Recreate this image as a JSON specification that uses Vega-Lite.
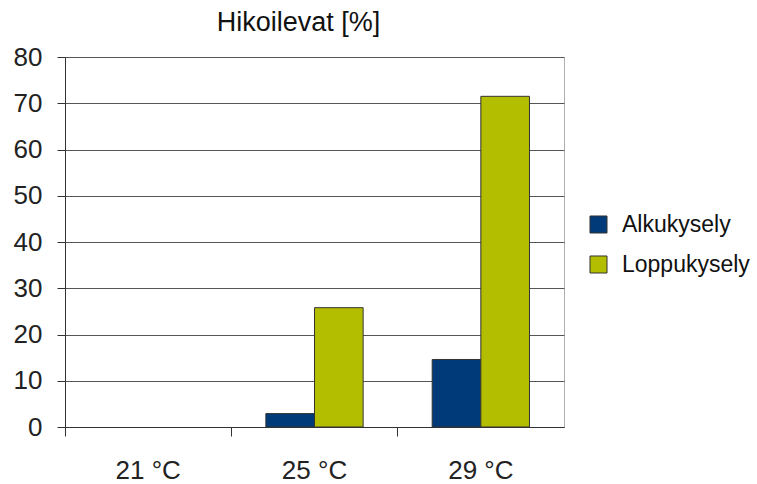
{
  "$schema": "https://vega.github.io/schema/vega-lite/v6.json",
  "autosize": "none",
  "width": 499,
  "height": 370,
  "padding": {"left": 65, "top": 57, "right": 193, "bottom": 57},
  "background": "white",
  "title": {
    "text": "Hikoilevat [%]",
    "font": "Liberation Sans",
    "fontSize": 27,
    "fontWeight": "normal",
    "color": "#111111",
    "anchor": "middle",
    "offset": 7,
    "dx": -16
  },
  "data": {
    "values": [
      {"temp": "21 °C", "series": "Alkukysely", "value": 0},
      {"temp": "21 °C", "series": "Loppukysely", "value": 0},
      {"temp": "25 °C", "series": "Alkukysely", "value": 2.9},
      {"temp": "25 °C", "series": "Loppukysely", "value": 25.8},
      {"temp": "29 °C", "series": "Alkukysely", "value": 14.6},
      {"temp": "29 °C", "series": "Loppukysely", "value": 71.5}
    ]
  },
  "config": {
    "view": {"stroke": "#b0b0b0", "strokeWidth": 1},
    "axis": {
      "labelFont": "Liberation Sans",
      "labelFontSize": 26,
      "labelColor": "#222222",
      "domainColor": "#333333",
      "tickColor": "#333333",
      "titleFont": "Liberation Sans"
    },
    "legend": {"labelFont": "Liberation Sans"}
  },
  "mark": {"type": "bar", "stroke": "#333333"},
  "encoding": {
    "x": {
      "field": "temp",
      "type": "nominal",
      "title": null,
      "scale": {"paddingInner": 0, "paddingOuter": 0},
      "axis": {
        "labelAngle": 0,
        "bandPosition": 0,
        "tickSize": 9,
        "labelPadding": 21,
        "grid": false
      }
    },
    "xOffset": {
      "field": "series",
      "type": "nominal",
      "scale": {"paddingInner": 0, "paddingOuter": 0.71}
    },
    "y": {
      "field": "value",
      "type": "quantitative",
      "title": null,
      "scale": {"domain": [0, 80], "nice": false},
      "axis": {
        "values": [0, 10, 20, 30, 40, 50, 60, 70, 80],
        "tickSize": 8,
        "labelPadding": 15,
        "grid": true,
        "gridColor": "#555555",
        "gridWidth": 1,
        "gridOpacity": 1
      }
    },
    "strokeWidth": {
      "condition": {"test": "datum.value == 0", "value": 0},
      "value": 1
    },
    "color": {
      "field": "series",
      "type": "nominal",
      "title": null,
      "scale": {"domain": ["Alkukysely", "Loppukysely"], "range": ["#003a78", "#b4be00"]},
      "legend": {
        "orient": "none",
        "legendX": 522,
        "legendY": 156,
        "symbolType": "square",
        "symbolSize": 290,
        "symbolStrokeColor": "#333333",
        "symbolStrokeWidth": 1,
        "labelFontSize": 23,
        "labelColor": "#111111",
        "rowPadding": 16,
        "labelOffset": 12
      }
    }
  }
}
